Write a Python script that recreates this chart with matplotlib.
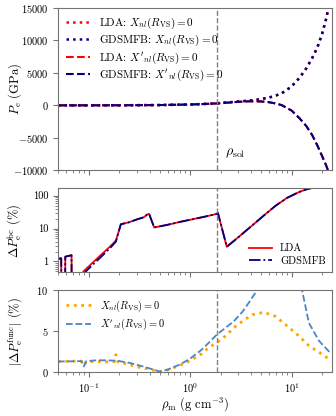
import matplotlib
matplotlib.use('Agg')
import matplotlib.pyplot as plt
import numpy as np
from matplotlib.ticker import FuncFormatter, LogLocator, NullFormatter

plt.rcParams['font.family'] = 'serif'
plt.rcParams['font.serif'] = ['cmr10', 'DejaVu Serif']
plt.rcParams['mathtext.fontset'] = 'cm'
plt.rcParams['axes.formatter.use_mathtext'] = True
plt.rcParams['axes.edgecolor'] = '0.45'
plt.rcParams['xtick.color'] = '0.45'
plt.rcParams['ytick.color'] = '0.45'
plt.rcParams['xtick.labelcolor'] = 'black'
plt.rcParams['ytick.labelcolor'] = 'black'

rho_sol = 1.85

# panel 1: electron pressure (GPa)
rho_P = [0.05, 0.1, 0.2, 0.5, 1.0, 1.5, 1.85, 2.5, 3.0, 3.8, 5.0, 6.0, 7.0, 8.0,
         10.0, 12.0, 14.0, 16.0, 18.0, 20.0, 22.0, 23.0]
P_lda_X = [0, 4, 12, 45, 125, 235, 320, 480, 580, 720, 950, 1200, 1500, 1850,
           2900, 4250, 5700, 7300, 8950, 11000, 13400, 14900]
P_gds_X = [0, 4, 12, 45, 125, 235, 320, 480, 580, 720, 950, 1200, 1500, 1850,
           2900, 4250, 5700, 7300, 8950, 11000, 13400, 14900]
P_lda_dX = [0, 4, 12, 45, 125, 230, 300, 450, 540, 620, 600, 480, 280, 30,
            -800, -2000, -3200, -4600, -6200, -7800, -9300, -10100]
P_gds_dX = [0, 4, 12, 45, 125, 230, 300, 450, 540, 620, 600, 480, 280, 30,
            -800, -2000, -3200, -4600, -6200, -7800, -9300, -10100]

# panel 2: boundary-condition difference (%)
rho_bc = [0.05, 0.0538, 0.0539, 0.0588, 0.059, 0.068, 0.0681, 0.080, 0.089, 0.10,
          0.13, 0.16, 0.186, 0.208, 0.25, 0.30, 0.35, 0.38, 0.395, 0.443, 0.6,
          0.8, 1.0, 1.4, 1.84, 1.88, 2.3, 3.0, 4.1, 5.5, 7.0, 9.0, 11.8, 14.0,
          16.0, 18.0, 23.0]
bc_lda = [1.2, 1.25, 0.2, 0.2, 1.4, 1.55, 0.2, 0.2, 0.5, 0.7,
          1.5, 2.7, 4.3, 13.5, 15.5, 19, 22, 27, 28, 10.8, 13,
          16, 18.5, 23, 28, 30, 2.8, 5.5, 12.5, 27, 50, 85, 128, 155,
          172, 185, 200]
bc_gds = [1.2, 1.25, 0.2, 0.2, 1.4, 1.55, 0.2, 0.2, 0.42, 0.6,
          1.3, 2.4, 4.0, 13.5, 15.5, 19, 22, 27, 28, 10.8, 13,
          16, 18.5, 23, 28, 30, 2.8, 5.5, 12.5, 27, 50, 85, 128, 155,
          172, 185, 200]

# panel 3: functional difference (%)
rho_fx = [0.05, 0.07, 0.085, 0.09, 0.095, 0.12, 0.15, 0.18, 0.186, 0.195, 0.25,
          0.3, 0.4, 0.5, 0.6, 0.8, 1.0, 1.3, 1.54, 1.85, 2.24, 2.7, 3.27, 4.1,
          5.34, 6.95, 8.7, 11.8, 14.8, 18.6, 24.5]
fx_X = [1.25, 1.3, 1.3, 0.8, 1.25, 1.25, 1.2, 1.25, 2.1, 1.2, 0.9,
        0.6, 0.3, 0.0, 0.2, 0.8, 1.35, 2.2, 3.0, 3.6, 4.4, 5.4, 6.2, 7.0,
        7.3, 6.8, 5.8, 4.4, 3.2, 2.4, 1.4]
rho_fdx = [0.05, 0.07, 0.085, 0.09, 0.095, 0.12, 0.15, 0.19, 0.25, 0.3, 0.4,
           0.5, 0.6, 0.8, 1.0, 1.3, 1.54, 1.85, 2.24, 2.7, 3.3, 3.8, 4.4, 5.0,
           5.5, 6.5, 7.5, 8.0, 8.5, 10.0, 11.5, 12.7, 14.8, 18.6, 24.5]
fx_dX = [1.25, 1.28, 1.3, 0.65, 1.3, 1.4, 1.4, 1.35, 1.1, 0.85, 0.4,
         0.02, 0.25, 0.9, 1.6, 2.7, 3.6, 4.6, 5.4, 6.2, 7.4, 8.5, 9.7, 11.5,
         14, 25, 60, 300, 80, 25, 14, 10, 6.0, 3.8, 2.2]

fig, (ax1, ax2, ax3) = plt.subplots(3, 1, sharex=True, figsize=(3.36, 4.16), dpi=100,
                                    gridspec_kw={'height_ratios': [2, 1.03, 1]})
fig.subplots_adjust(left=0.1726, right=0.988, top=0.9815, bottom=0.1065, hspace=0.165)

# top panel
ax1.plot(rho_P, P_lda_X, ':', color='red', lw=1.8, label=r'LDA: $X_{nl}(R_\mathrm{VS})=0$')
ax1.plot(rho_P, P_gds_X, ':', color='navy', lw=1.8, label=r'GDSMFB: $X_{nl}(R_\mathrm{VS})=0$')
ax1.plot(rho_P, P_lda_dX, '--', color='red', lw=1.5, label=r"LDA: $X'_{nl}(R_\mathrm{VS})=0$")
ax1.plot(rho_P, P_gds_dX, '--', color='navy', lw=1.5, label=r"GDSMFB: $X'_{nl}(R_\mathrm{VS})=0$")
ax1.axvline(rho_sol, color='gray', ls='--', lw=1)
ax1.text(2.2, -7300, r'$\rho_\mathrm{sol}$', fontsize=10, va='center', ha='left')
ax1.set_ylim(-10000, 15000)
ax1.set_yticks([-10000, -5000, 0, 5000, 10000, 15000])
ax1.set_ylabel(r'$P_\mathrm{e}$ (GPa)', fontsize=9)
ax1.legend(loc='upper left', frameon=False, fontsize=8, handlelength=2.2,
           labelspacing=0.2, borderaxespad=0.3)

# middle panel
ax2.plot(rho_bc, bc_lda, '-', color='red', lw=1.3, label='LDA')
ax2.plot(rho_bc, bc_gds, '-.', color='navy', lw=1.3, label='GDSMFB')
ax2.axvline(rho_sol, color='gray', ls='--', lw=1)
ax2.set_yscale('log')
ax2.set_ylim(0.47, 165)
ax2.yaxis.set_major_formatter(FuncFormatter(lambda v, p: '%g' % v))
ax2.yaxis.set_minor_locator(LogLocator(base=10, subs=np.arange(2, 10)))
ax2.yaxis.set_minor_formatter(NullFormatter())
ax2.set_ylabel(r'$\Delta P_\mathrm{e}^\mathrm{bc}$ (%)', fontsize=9)
ax2.legend(loc='lower right', frameon=False, fontsize=7.5, handlelength=2.2,
           labelspacing=0.3, borderaxespad=0.2)

# bottom panel
ax3.plot(rho_fx, fx_X, ':', color='orange', lw=2, label=r'$X_{nl}(R_\mathrm{VS})=0$')
ax3.plot(rho_fdx, fx_dX, '--', color='#4a86c5', lw=1.3, label=r"$X'_{nl}(R_\mathrm{VS})=0$")
ax3.axvline(rho_sol, color='gray', ls='--', lw=1)
ax3.set_ylim(0, 10)
ax3.set_yticks([0, 5, 10])
ax3.set_ylabel(r'$|\Delta P_\mathrm{e}^\mathrm{func}|$ (%)', fontsize=9)
ax3.legend(loc='upper left', frameon=False, fontsize=7.5, handlelength=2.4,
           labelspacing=0.3, borderaxespad=0.4)

ax3.set_xscale('log')
ax3.set_xlim(0.05, 25)
ax3.set_xlabel(r'$\rho_\mathrm{m}$ (g cm$^{-3}$)', fontsize=9, labelpad=0)

for ax in (ax1, ax2, ax3):
    ax.tick_params(labelsize=7.5)
    ax.yaxis.set_label_coords(-0.125, 0.5)

fig.savefig('out.png', dpi=100)
